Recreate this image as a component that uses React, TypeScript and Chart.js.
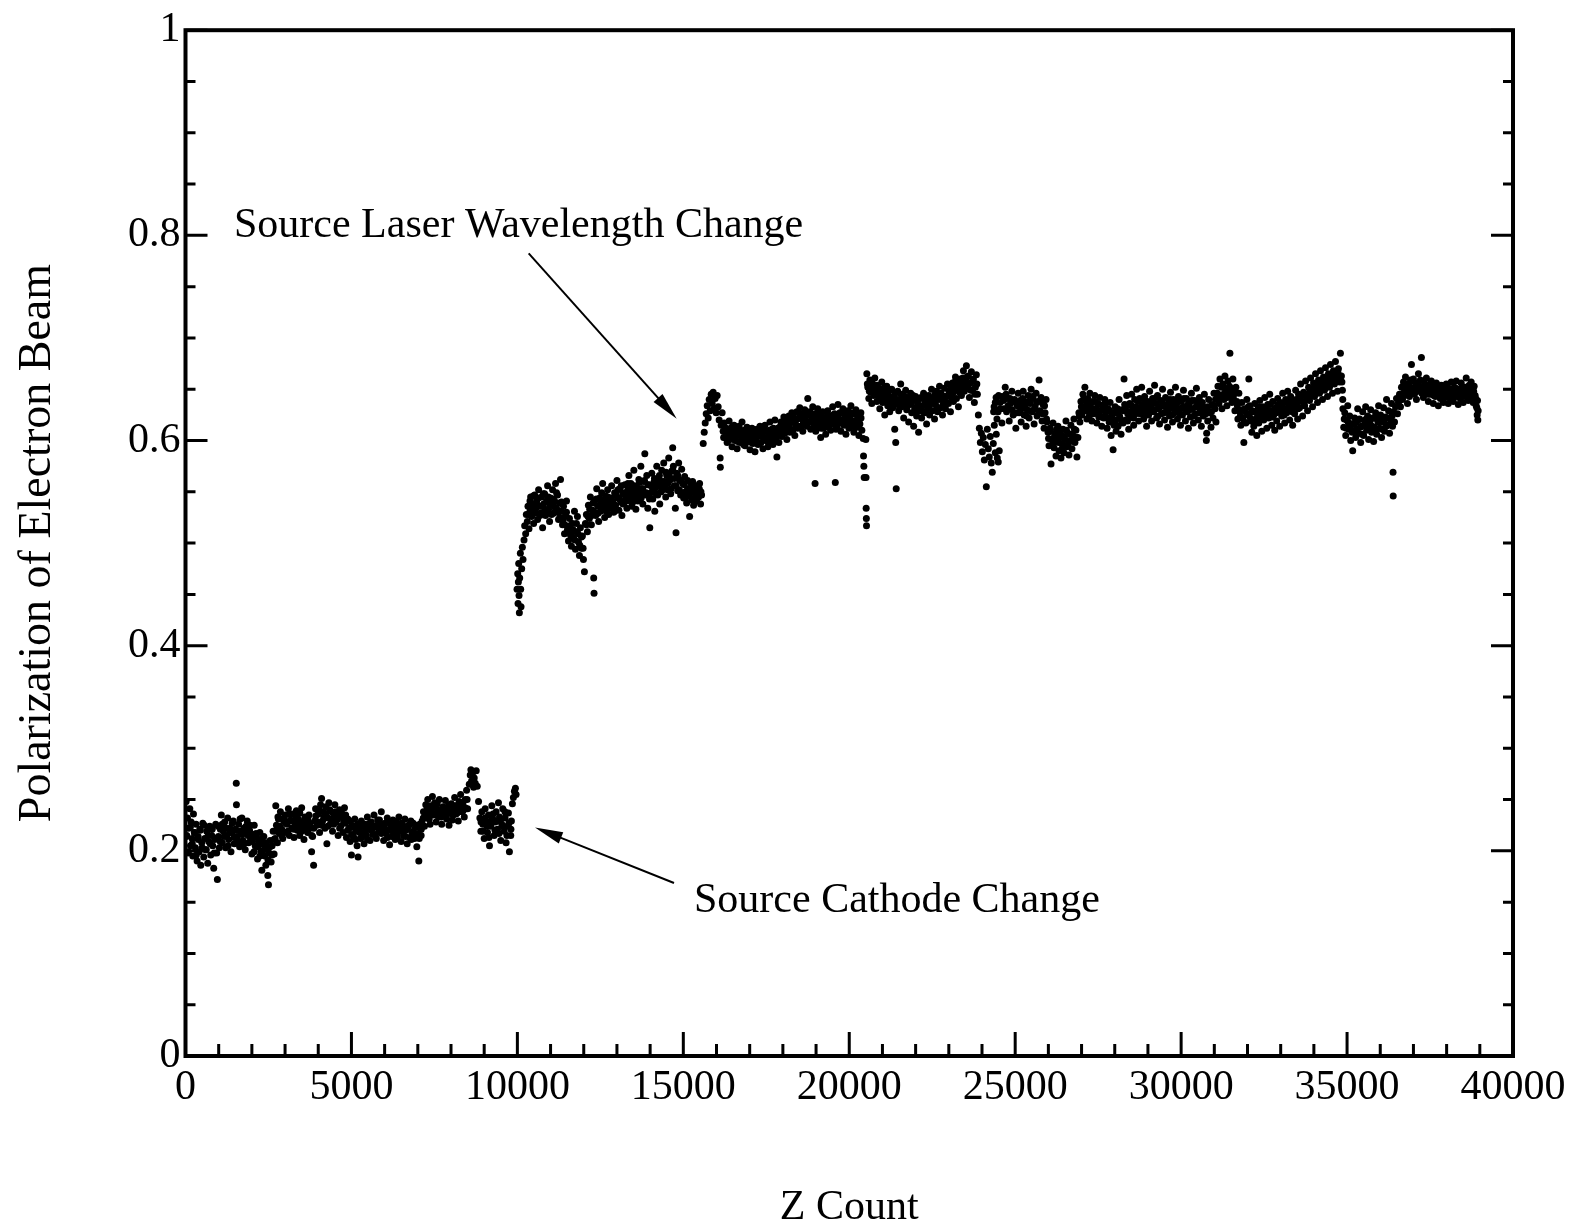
import React, { useEffect, useRef } from "react";
import { Chart, registerables } from "chart.js";

Chart.register(...registerables);

// Z Count vs polarization
const cathodeEra: [number, number][] = [
[20,0.248],[40,0.215],[60,0.232],[80,0.198],[100,0.222],[130,0.241],[150,0.205],[170,0.228],[200,0.212],[220,0.195],[240,0.236],[270,0.218],[300,0.203],[320,0.226],[350,0.190],[380,0.214],[410,0.199],[430,0.221],[460,0.186],[490,0.208],[520,0.227],[550,0.194],[580,0.212],[610,0.201],[640,0.219],[670,0.188],[700,0.209],[730,0.224],[760,0.196],[790,0.215],[820,0.205],[850,0.183],[880,0.211],[910,0.226],[940,0.198],[960,0.172],[990,0.214],[1020,0.203],[1050,0.221],[1080,0.235],[1110,0.208],[1140,0.219],[1180,0.228],[1210,0.203],[1240,0.215],[1270,0.232],[1300,0.211],[1340,0.222],[1370,0.199],[1400,0.218],[1440,0.229],[1470,0.207],[1500,0.221],[1530,0.266],[1535,0.245],[1560,0.214],[1600,0.226],[1630,0.204],[1660,0.219],[1700,0.232],[1730,0.210],[1760,0.222],[1800,0.201],[1830,0.218],[1860,0.229],[1900,0.208],[1930,0.220],[1960,0.212],[2000,0.197],[2040,0.216],[2070,0.225],[2100,0.205],[2140,0.213],[2170,0.192],[2200,0.209],[2240,0.218],[2270,0.199],[2300,0.181],[2330,0.207],[2360,0.214],[2390,0.195],[2420,0.186],[2450,0.203],[2480,0.176],[2500,0.167],[2520,0.198],[2550,0.210],[2580,0.189],[2610,0.205],[2640,0.219],[2670,0.197],[2700,0.212],[2720,0.244],[2740,0.225],[2770,0.208],[2800,0.231],[2830,0.217],[2860,0.238],[2900,0.221],[2930,0.212],[2960,0.229],[3000,0.235],[3030,0.218],[3060,0.226],[3100,0.241],[3130,0.215],[3160,0.230],[3200,0.222],[3240,0.236],[3270,0.213],[3300,0.227],[3340,0.239],[3370,0.220],[3400,0.231],[3440,0.215],[3470,0.228],[3500,0.242],[3540,0.224],[3570,0.211],[3600,0.233],[3640,0.226],[3680,0.218],[3720,0.235],[3760,0.222],[3800,0.199],[3830,0.214],[3860,0.186],[3890,0.229],[3920,0.241],[3960,0.225],[4000,0.236],[4040,0.218],[4070,0.245],[4100,0.251],[4130,0.229],[4160,0.238],[4200,0.222],[4230,0.243],[4260,0.207],[4290,0.232],[4320,0.247],[4360,0.226],[4400,0.238],[4430,0.219],[4460,0.233],[4500,0.245],[4540,0.228],[4570,0.236],[4600,0.215],[4640,0.240],[4680,0.224],[4710,0.233],[4750,0.218],[4790,0.242],[4820,0.227],[4850,0.213],[4890,0.231],[4930,0.222],[4960,0.209],[5000,0.196],[5020,0.225],[5060,0.214],[5100,0.231],[5130,0.219],[5170,0.205],[5200,0.194],[5230,0.222],[5270,0.212],[5300,0.229],[5340,0.218],[5380,0.207],[5410,0.226],[5450,0.215],[5480,0.233],[5520,0.221],[5560,0.210],[5600,0.228],[5640,0.216],[5680,0.235],[5720,0.223],[5750,0.212],[5790,0.230],[5830,0.219],[5860,0.226],[5900,0.238],[5940,0.221],[5970,0.210],[6010,0.227],[6050,0.217],[6080,0.232],[6120,0.220],[6150,0.206],[6180,0.225],[6220,0.214],[6250,0.230],[6290,0.221],[6320,0.211],[6360,0.228],[6390,0.218],[6430,0.233],[6460,0.222],[6500,0.209],[6540,0.226],[6570,0.215],[6610,0.231],[6640,0.220],[6680,0.207],[6720,0.224],[6750,0.213],[6790,0.229],[6820,0.218],[6860,0.227],[6900,0.212],[6930,0.223],[6970,0.204],[7000,0.217],[7030,0.190],[7060,0.226],[7100,0.215],[7130,0.229],[7170,0.238],[7200,0.224],[7240,0.245],[7270,0.232],[7300,0.250],[7340,0.237],[7370,0.226],[7410,0.244],[7440,0.253],[7480,0.235],[7510,0.247],[7550,0.228],[7580,0.241],[7620,0.233],[7650,0.250],[7690,0.238],[7720,0.226],[7760,0.243],[7800,0.234],[7830,0.249],[7870,0.231],[7900,0.240],[7940,0.225],[7970,0.237],[8010,0.246],[8040,0.230],[8080,0.242],[8110,0.252],[8150,0.236],[8180,0.244],[8220,0.229],[8250,0.240],[8290,0.255],[8320,0.238],[8360,0.247],[8400,0.233],[8430,0.250],[8470,0.259],[8500,0.241],[8550,0.265],[8580,0.274],[8600,0.279],[8620,0.268],[8650,0.276],[8680,0.262],[8700,0.271],[8730,0.266],[8760,0.278],[8790,0.263],[8830,0.248],[8870,0.232],[8900,0.219],[8930,0.238],[8960,0.226],[9000,0.212],[9030,0.241],[9060,0.229],[9100,0.218],[9130,0.235],[9160,0.205],[9200,0.224],[9230,0.244],[9260,0.231],[9300,0.215],[9330,0.228],[9360,0.238],[9400,0.221],[9430,0.247],[9460,0.233],[9500,0.210],[9530,0.226],[9560,0.241],[9600,0.219],[9630,0.232],[9660,0.208],[9700,0.224],[9730,0.237],[9760,0.199],[9800,0.215],[9820,0.229],[9850,0.246],[9880,0.252],[9910,0.258],[9940,0.261],[9960,0.255]
];

const cathodeFill: [number, number][] = [
[25,0.214],[85,0.199],[145,0.223],[205,0.207],[265,0.218],[325,0.196],[385,0.211],[445,0.220],[505,0.203],[565,0.225],[625,0.201],[685,0.215],[745,0.207],[805,0.221],[865,0.198],[925,0.212],[985,0.224],[1045,0.209],[1105,0.226],[1165,0.214],[1225,0.222],[1285,0.205],[1345,0.218],[1405,0.227],[1465,0.213],[1525,0.220],[1585,0.209],[1645,0.231],[1705,0.216],[1765,0.207],[1825,0.224],[1885,0.215],[1945,0.225],[2005,0.209],[2065,0.199],[2125,0.217],[2185,0.204],[2245,0.195],[2305,0.212],[2365,0.201],[2425,0.208],[2485,0.191],[2545,0.204],[2605,0.196],[2665,0.211],[2725,0.219],[2785,0.233],[2845,0.224],[2905,0.215],[2965,0.232],[3025,0.227],[3085,0.219],[3145,0.236],[3205,0.229],[3265,0.221],[3325,0.233],[3385,0.225],[3445,0.237],[3505,0.219],[3565,0.229],[3625,0.221],[3685,0.232],[3745,0.227],[3805,0.215],[3865,0.222],[3925,0.234],[3985,0.228],[4045,0.239],[4105,0.225],[4165,0.233],[4225,0.236],[4285,0.224],[4345,0.240],[4405,0.229],[4465,0.226],[4525,0.238],[4585,0.231],[4645,0.222],[4705,0.237],[4765,0.228],[4825,0.235],[4885,0.220],[4945,0.229],[5005,0.216],[5065,0.223],[5125,0.211],[5185,0.226],[5245,0.218],[5305,0.213],[5365,0.224],[5425,0.219],[5485,0.211],[5545,0.227],[5605,0.220],[5665,0.224],[5725,0.216],[5785,0.225],[5845,0.230],[5905,0.217],[5965,0.224],[6025,0.221],[6085,0.213],[6145,0.228],[6205,0.221],[6265,0.216],[6325,0.225],[6385,0.213],[6445,0.219],[6505,0.227],[6565,0.220],[6625,0.214],[6685,0.222],[6745,0.226],[6805,0.211],[6865,0.219],[6925,0.216],[6985,0.225],[7045,0.212],[7105,0.221],[7165,0.232],[7225,0.236],[7285,0.241],[7345,0.231],[7405,0.239],[7465,0.244],[7525,0.236],[7585,0.246],[7645,0.239],[7705,0.233],[7765,0.237],[7825,0.242],[7885,0.236],[7945,0.245],[8005,0.238],[8065,0.235],[8125,0.244],[8185,0.237],[8245,0.248],[8305,0.243],[8365,0.239],[8425,0.242],[8485,0.250],[8905,0.228],[8965,0.219],[9025,0.232],[9085,0.224],[9145,0.213],[9205,0.229],[9265,0.236],[9325,0.220],[9385,0.229],[9445,0.217],[9505,0.231],[9565,0.224],[9625,0.238],[9685,0.215],[9745,0.227],[9805,0.221]
];

const laserEra: [number, number][] = [
[9990,0.455],[10010,0.470],[10020,0.441],[10030,0.462],[10040,0.480],[10050,0.449],[10060,0.432],[10070,0.466],[10090,0.490],[10100,0.455],[10110,0.438],[10130,0.475],[10150,0.496],[10170,0.484],[10200,0.503],[10220,0.517],[10250,0.509],[10270,0.528],[10300,0.521],[10320,0.536],[10350,0.514],[10380,0.531],[10400,0.545],[10430,0.526],[10460,0.538],[10490,0.519],[10520,0.547],[10550,0.533],[10580,0.541],[10610,0.523],[10640,0.552],[10670,0.536],[10700,0.529],[10730,0.545],[10760,0.515],[10790,0.538],[10820,0.548],[10850,0.527],[10880,0.541],[10910,0.556],[10940,0.533],[10970,0.521],[11000,0.544],[11030,0.537],[11060,0.552],[11090,0.529],[11120,0.541],[11150,0.558],[11180,0.534],[11210,0.547],[11240,0.523],[11270,0.539],[11300,0.562],[11330,0.531],[11360,0.518],[11390,0.536],[11420,0.509],[11450,0.527],[11480,0.541],[11510,0.513],[11540,0.502],[11570,0.524],[11600,0.508],[11630,0.497],[11660,0.519],[11690,0.505],[11720,0.531],[11750,0.494],[11780,0.511],[11810,0.526],[11840,0.501],[11870,0.488],[11900,0.515],[11930,0.495],[11960,0.507],[11990,0.484],[12020,0.472],[12050,0.519],[12080,0.528],[12110,0.511],[12140,0.537],[12170,0.524],[12200,0.545],[12230,0.518],[12260,0.532],[12300,0.466],[12310,0.451],[12330,0.541],[12360,0.527],[12390,0.553],[12420,0.536],[12450,0.521],[12480,0.544],[12510,0.531],[12540,0.549],[12570,0.558],[12600,0.535],[12630,0.525],[12660,0.546],[12690,0.539],[12720,0.552],[12750,0.528],[12780,0.543],[12810,0.534],[12840,0.556],[12870,0.541],[12900,0.530],[12930,0.549],[12960,0.537],[13000,0.561],[13030,0.544],[13060,0.532],[13090,0.553],[13120,0.540],[13150,0.527],[13180,0.548],[13210,0.539],[13240,0.557],[13270,0.545],[13300,0.534],[13330,0.552],[13360,0.566],[13390,0.541],[13420,0.558],[13450,0.536],[13480,0.549],[13510,0.571],[13540,0.545],[13570,0.533],[13600,0.554],[13630,0.541],[13660,0.562],[13690,0.548],[13720,0.575],[13750,0.553],[13780,0.538],[13810,0.560],[13840,0.587],[13870,0.547],[13900,0.566],[13930,0.534],[13960,0.557],[13990,0.515],[14020,0.549],[14050,0.568],[14080,0.543],[14110,0.559],[14140,0.531],[14170,0.554],[14200,0.575],[14230,0.547],[14260,0.563],[14290,0.538],[14320,0.556],[14350,0.571],[14380,0.552],[14410,0.578],[14440,0.560],[14470,0.545],[14500,0.566],[14530,0.552],[14560,0.583],[14590,0.561],[14620,0.548],[14650,0.570],[14680,0.593],[14700,0.575],[14730,0.556],[14760,0.534],[14780,0.510],[14800,0.568],[14830,0.551],[14860,0.578],[14890,0.561],[14920,0.547],[14950,0.572],[14980,0.558],[15010,0.544],[15040,0.565],[15070,0.550],[15100,0.539],[15130,0.561],[15160,0.548],[15190,0.526],[15220,0.553],[15250,0.542],[15280,0.560],[15310,0.537],[15340,0.549],[15370,0.556],[15400,0.541],[15430,0.552],[15460,0.545],[15490,0.558],[15520,0.538],[15550,0.547]
];

const laserFill: [number, number][] = [
[10330,0.528],[10380,0.541],[10430,0.535],[10480,0.546],[10530,0.529],[10580,0.538],[10630,0.544],[10680,0.527],[10730,0.536],[10780,0.548],[10830,0.533],[10880,0.530],[10930,0.545],[10980,0.538],[11030,0.528],[11080,0.543],[11130,0.535],[11180,0.549],[11230,0.530],[11280,0.525],[11330,0.540],[11380,0.523],[11430,0.518],[11480,0.530],[11530,0.512],[11580,0.517],[11630,0.508],[11680,0.513],[11730,0.503],[11780,0.519],[11830,0.509],[11880,0.498],[11930,0.506],[11980,0.495],[12080,0.518],[12130,0.526],[12180,0.533],[12230,0.527],[12280,0.539],[12330,0.530],[12380,0.543],[12430,0.529],[12480,0.537],[12530,0.542],[12580,0.533],[12630,0.540],[12680,0.531],[12730,0.545],[12780,0.536],[12830,0.544],[12880,0.539],[12930,0.531],[12980,0.547],[13030,0.552],[13080,0.543],[13130,0.556],[13180,0.538],[13230,0.549],[13280,0.541],[13330,0.558],[13380,0.547],[13430,0.553],[13480,0.540],[13530,0.556],[13580,0.548],[13630,0.552],[13680,0.559],[13730,0.544],[13780,0.553],[13830,0.561],[13880,0.549],[13930,0.557],[13980,0.543],[14030,0.556],[14080,0.552],[14130,0.563],[14180,0.548],[14230,0.559],[14280,0.566],[14330,0.550],[14380,0.560],[14430,0.555],[14480,0.569],[14530,0.558],[14580,0.565],[14630,0.553],[14680,0.571],[14730,0.563],[14780,0.556],[14830,0.566],[14880,0.552],[14930,0.561],[14980,0.549],[15030,0.557],[15080,0.545],[15130,0.553],[15180,0.547],[15230,0.558],[15280,0.551],[15330,0.544],[15380,0.550],[15430,0.546],[15480,0.553],[15530,0.550]
];

const plateauEra: [number, number][] = [
[15600,0.597],[15630,0.608],[15660,0.617],[15690,0.626],[15720,0.634],[15750,0.622],[15780,0.640],[15810,0.629],[15840,0.645],[15870,0.636],[15900,0.647],[15930,0.631],[15960,0.641],[15990,0.627],[16020,0.644],[16050,0.633],[16080,0.620],[16110,0.583],[16115,0.574],[16140,0.615],[16170,0.627],[16200,0.609],
[16230,0.617],[16260,0.603],[16290,0.612],[16320,0.598],[16350,0.608],[16380,0.619],[16410,0.601],[16440,0.611],[16470,0.594],[16500,0.606],[16530,0.615],[16560,0.600],[16590,0.609],[16620,0.592],[16650,0.605],[16680,0.614],[16710,0.598],[16740,0.607],[16770,0.618],[16800,0.601],[16830,0.610],[16860,0.595],[16890,0.604],[16920,0.613],[16950,0.599],[16980,0.608],[17010,0.591],[17040,0.603],[17070,0.612],[17100,0.597],[17130,0.606],[17160,0.589],[17190,0.600],[17220,0.611],[17250,0.596],[17280,0.605],[17310,0.614],[17340,0.598],[17370,0.607],[17400,0.592],[17430,0.603],[17460,0.615],[17490,0.600],[17520,0.609],[17550,0.594],[17580,0.605],[17610,0.618],[17640,0.601],[17670,0.611],[17700,0.596],[17730,0.607],[17760,0.620],[17790,0.603],[17820,0.584],[17850,0.612],[17880,0.598],
[17910,0.609],[17940,0.618],[17970,0.604],[18000,0.613],[18030,0.623],[18060,0.607],[18090,0.616],[18120,0.601],[18150,0.611],[18180,0.624],[18210,0.608],[18240,0.618],[18270,0.627],[18300,0.610],[18330,0.620],[18360,0.605],[18390,0.615],[18420,0.628],[18450,0.612],[18480,0.622],[18510,0.632],[18540,0.614],[18570,0.624],[18600,0.609],[18630,0.619],[18660,0.630],[18690,0.615],[18720,0.625],[18750,0.641],[18780,0.618],[18810,0.628],[18840,0.611],[18870,0.622],[18900,0.633],[18930,0.616],[18960,0.626],[18970,0.558],[18990,0.609],[19020,0.620],[19050,0.631],[19080,0.614],[19110,0.624],[19140,0.603],[19170,0.617],[19200,0.628],[19230,0.612],[19260,0.622],[19290,0.606],[19320,0.618],[19350,0.629],[19380,0.613],
[19410,0.624],[19440,0.610],[19470,0.621],[19500,0.633],[19530,0.616],[19560,0.626],[19580,0.559],[19600,0.611],[19630,0.622],[19660,0.635],[19690,0.617],[19720,0.627],[19750,0.609],[19780,0.620],[19810,0.631],[19840,0.615],[19870,0.625],[19900,0.606],[19930,0.618],[19960,0.629],[19990,0.612],[20020,0.623],[20050,0.634],[20080,0.616],[20110,0.626],[20140,0.608],[20170,0.619],[20200,0.630],[20230,0.613],[20260,0.622],[20290,0.605],[20320,0.616],[20350,0.627],[20380,0.610],
[20420,0.602],[20430,0.585],[20440,0.575],[20450,0.564],[20500,0.601],[20505,0.564],[20510,0.534],[20515,0.524],[20520,0.517],
[20530,0.665],[20560,0.652],[20590,0.641],[20620,0.659],[20650,0.647],[20680,0.636],[20710,0.655],[20740,0.644],[20770,0.661],[20800,0.649],[20830,0.638],
[20860,0.652],[20890,0.640],[20920,0.631],[20950,0.648],[20980,0.657],[21010,0.637],[21040,0.646],[21070,0.625],[21100,0.641],[21130,0.653],[21160,0.634],[21190,0.644],[21220,0.628],[21250,0.639],[21280,0.650],[21310,0.632],[21340,0.643],[21370,0.611],[21400,0.598],[21415,0.553],[21430,0.637],[21460,0.648],[21490,0.629],[21520,0.640],[21550,0.655],[21580,0.633],[21610,0.644],[21640,0.622],[21670,0.638],[21700,0.649],[21730,0.630],[21760,0.641],[21790,0.618],[21820,0.635],[21850,0.646],[21880,0.627],[21910,0.639],[21940,0.614],[21970,0.632],[22000,0.643],[22030,0.624],[22060,0.636],[22090,0.608],[22120,0.629],[22150,0.641],[22180,0.622],[22210,0.634],[22240,0.646],[22270,0.627],[22300,0.638],[22330,0.616],[22360,0.631],[22390,0.644],[22420,0.625],[22450,0.637],[22480,0.650],[22510,0.629],[22540,0.640],[22570,0.621],[22600,0.635],[22630,0.648],[22660,0.628],[22690,0.641],[22720,0.653],[22750,0.632],[22780,0.644],[22810,0.625],[22840,0.639],[22870,0.651],[22900,0.631],[22930,0.643],[22960,0.655],[22990,0.636],[23020,0.647],[23050,0.628],
[23080,0.642],[23110,0.656],[23140,0.638],[23170,0.650],[23200,0.662],[23230,0.641],[23260,0.653],[23290,0.633],[23320,0.647],[23350,0.660],[23380,0.644],[23410,0.655],[23440,0.668],[23470,0.648],[23500,0.659],[23530,0.673],[23560,0.651],[23590,0.663],[23620,0.642],[23650,0.656],[23680,0.667],[23710,0.649],[23740,0.660],[23770,0.637],[23800,0.652],[23830,0.664],[23860,0.645],[23890,0.625],
[23920,0.612],[23950,0.598],[23980,0.607],[24010,0.589],[24040,0.603],[24070,0.581],[24100,0.596],[24130,0.555],[24160,0.611],[24190,0.592],[24220,0.584],[24250,0.604],[24280,0.578],[24310,0.569],[24340,0.597],[24370,0.615],[24400,0.588],[24430,0.606],[24460,0.583],[24490,0.579],[24520,0.590],
[24350,0.628],[24400,0.637],[24450,0.621],[24500,0.644],[24550,0.631],[24600,0.617],[24650,0.639],[24700,0.652],[24740,0.628],[24780,0.641],[24820,0.619],[24860,0.636],[24900,0.648],[24940,0.625],[24980,0.640],[25020,0.612],
[25060,0.634],[25090,0.646],[25120,0.627],[25150,0.639],[25180,0.618],[25210,0.633],[25240,0.648],[25270,0.625],[25300,0.637],[25330,0.614],[25360,0.630],[25390,0.644],[25420,0.622],[25450,0.636],[25480,0.650],[25510,0.628],[25540,0.641],[25570,0.616],[25600,0.633],[25630,0.646],[25660,0.624],[25690,0.638],[25720,0.659],[25750,0.629],[25780,0.642],[25810,0.619],[25840,0.635],[25870,0.612],[25900,0.627],[25930,0.640],[25960,0.618],
[25990,0.608],[26020,0.595],[26050,0.612],[26080,0.577],[26110,0.601],[26140,0.617],[26170,0.593],[26200,0.606],[26230,0.585],[26260,0.599],[26290,0.614],[26320,0.590],[26350,0.603],[26380,0.583],[26410,0.597],[26440,0.611],[26470,0.588],[26500,0.601],[26530,0.619],[26560,0.594],[26590,0.607],[26620,0.586],[26650,0.600],[26680,0.615],[26710,0.592],[26740,0.605],[26770,0.621],[26800,0.598],[26830,0.610],[26860,0.584],[26890,0.603],
[26920,0.627],[26950,0.618],[26980,0.638],[27010,0.625],[27040,0.645],[27070,0.630],[27100,0.652],[27130,0.634],[27160,0.621],[27190,0.641],[27220,0.628],[27250,0.646],[27280,0.632],[27310,0.619],[27340,0.638],[27370,0.626],[27400,0.644],[27430,0.631],[27460,0.617],[27490,0.636],[27520,0.623],[27550,0.642],[27580,0.629],[27610,0.614],[27640,0.634],[27670,0.622],[27700,0.640],[27730,0.627],
[27770,0.612],[27800,0.631],[27830,0.618],[27860,0.637],[27890,0.605],[27920,0.624],[27950,0.591],[27980,0.615],[28010,0.633],[28040,0.609],[28070,0.627],[28100,0.614],[28130,0.640],[28160,0.622],[28190,0.606],[28220,0.630],[28250,0.617],[28280,0.660],[28300,0.635],[28330,0.620],[28360,0.644],[28390,0.626],[28420,0.611],[28450,0.636],[28480,0.623],[28510,0.645],[28540,0.629],[28570,0.615],[28600,0.640],[28630,0.626],[28660,0.650],
[28690,0.632],[28720,0.619],[28750,0.641],[28780,0.628],[28810,0.652],[28840,0.635],[28870,0.621],[28900,0.643],[28930,0.630],[28960,0.614],[28990,0.638],[29020,0.625],[29050,0.648],[29080,0.633],[29110,0.619],[29140,0.641],[29170,0.628],[29200,0.654],[29230,0.636],[29260,0.622],[29290,0.644],[29320,0.631],[29350,0.616],[29380,0.639],[29410,0.626],[29440,0.650],[29470,0.634],[29500,0.620],[29530,0.642],[29560,0.629],[29590,0.613],[29620,0.637],[29650,0.624],[29680,0.647],[29710,0.632],[29740,0.618],[29770,0.640],[29800,0.627],[29830,0.652],[29860,0.635],[29890,0.621],[29920,0.643],[29950,0.630],[29980,0.615],[30010,0.638],[30040,0.625],[30070,0.649],[30100,0.633],[30130,0.619],[30160,0.641],[30190,0.628],[30220,0.612],[30250,0.636],[30280,0.623],[30310,0.646],[30340,0.631],[30370,0.617],[30400,0.639],[30430,0.626],[30460,0.651],[30490,0.634],[30520,0.620],[30550,0.642],[30580,0.629],[30610,0.614],[30640,0.637],[30670,0.624],[30700,0.645],[30730,0.632],[30760,0.600],[30770,0.607],[30800,0.619],[30830,0.640],[30860,0.627],
[30900,0.613],[30930,0.635],[30960,0.622],[30990,0.646],[31020,0.631],[31050,0.618],[31080,0.641],[31110,0.653],[31140,0.636],[31170,0.660],[31200,0.644],[31230,0.631],[31260,0.655],[31290,0.640],[31320,0.663],[31350,0.647],[31380,0.634],[31410,0.658],[31440,0.643],[31470,0.685],[31500,0.651],[31530,0.637],[31560,0.660],[31590,0.645],[31620,0.629],[31650,0.652],[31680,0.638],[31710,0.621],[31740,0.646],
[31770,0.628],[31800,0.615],[31830,0.637],[31860,0.622],[31890,0.598],[31920,0.631],[31950,0.617],[31980,0.640],[32010,0.625],[32040,0.660],[32070,0.634],[32100,0.619],[32130,0.608],[32160,0.628],[32190,0.614],[32220,0.636],[32250,0.621],[32280,0.605],[32310,0.630],[32340,0.617],[32370,0.639],[32400,0.624],[32430,0.609],[32460,0.633],[32490,0.620],[32520,0.642],[32550,0.627],[32580,0.612],[32610,0.635],[32640,0.622],[32670,0.645],[32700,0.629],[32730,0.615],[32760,0.638],[32790,0.625],[32820,0.610],[32850,0.632],[32880,0.619],[32910,0.641],[32940,0.628],[32970,0.614],[33000,0.637],[33030,0.624],[33060,0.646],[33090,0.631],[33120,0.617],[33150,0.640],[33180,0.627],[33210,0.648],[33240,0.633],[33270,0.620],[33300,0.643],[33330,0.630],[33360,0.615],[33390,0.639],[33420,0.626],[33450,0.649],[33480,0.635],[33510,0.621],[33540,0.645],[33570,0.632],[33600,0.655],[33630,0.638],[33660,0.624],[33690,0.647],[33720,0.634],[33750,0.658],[33780,0.641],
[33810,0.629],[33840,0.652],[33870,0.639],[33900,0.661],[33930,0.645],[33960,0.633],[33990,0.656],[34020,0.643],[34050,0.665],[34080,0.649],[34110,0.637],[34140,0.659],[34170,0.646],[34200,0.668],[34230,0.652],[34260,0.640],[34290,0.662],[34320,0.649],[34350,0.671],[34380,0.655],[34410,0.643],[34440,0.665],[34470,0.652],[34500,0.674],[34530,0.658],[34560,0.646],[34590,0.668],[34620,0.655],[34650,0.677],[34680,0.660],[34710,0.648],[34740,0.670],[34770,0.657],[34800,0.685],[34830,0.663],[34860,0.649],[34870,0.640],[34875,0.631],
[34900,0.613],[34930,0.627],[34960,0.605],[34990,0.620],[35020,0.634],[35050,0.611],[35080,0.624],[35110,0.600],[35140,0.616],[35170,0.590],[35200,0.609],[35230,0.622],[35260,0.603],[35290,0.618],[35320,0.631],[35350,0.607],[35380,0.621],[35410,0.598],[35440,0.614],[35470,0.628],[35500,0.605],[35530,0.619],[35560,0.633],[35590,0.610],[35620,0.624],[35650,0.601],[35680,0.616],[35710,0.630],[35740,0.608],[35770,0.622],[35800,0.599],[35830,0.613],[35860,0.627],[35890,0.606],[35920,0.620],[35950,0.634],[35980,0.612],[36010,0.625],[36040,0.603],[36070,0.618],[36100,0.632],[36130,0.609],[36160,0.623],[36190,0.640],[36220,0.615],[36250,0.629],[36280,0.607],[36310,0.621],[36340,0.636],[36370,0.614],[36385,0.569],[36390,0.546],[36400,0.628],[36430,0.618],[36460,0.633],[36490,0.641],[36520,0.626],[36550,0.637],
[36580,0.645],[36610,0.633],[36640,0.652],[36670,0.640],[36700,0.657],[36730,0.644],[36760,0.662],[36790,0.648],[36820,0.636],[36850,0.655],[36880,0.643],[36910,0.659],[36940,0.674],[36970,0.647],[37000,0.660],[37030,0.645],[37060,0.656],[37090,0.640],[37120,0.653],[37150,0.665],[37180,0.648],[37210,0.659],[37240,0.681],[37270,0.651],[37300,0.642],[37330,0.657],[37360,0.646],[37390,0.661],[37420,0.650],[37450,0.638],[37480,0.654],[37510,0.645],[37540,0.658],[37570,0.647],[37600,0.636],[37630,0.652],[37660,0.643],[37690,0.656],[37720,0.645],[37750,0.634],[37780,0.650],[37810,0.641],[37840,0.654],[37870,0.644],[37900,0.637],[37930,0.651],[37960,0.642],[37990,0.655],[38020,0.646],[38050,0.636],[38080,0.650],[38110,0.641],[38140,0.657],[38170,0.645],[38200,0.638],[38230,0.652],[38260,0.643],[38290,0.658],[38320,0.647],[38350,0.635],[38380,0.650],[38410,0.641],[38440,0.656],[38470,0.645],[38500,0.637],[38530,0.652],[38560,0.643],[38590,0.661],[38620,0.648],[38650,0.639],[38680,0.654],[38710,0.644],[38740,0.657],[38770,0.646],[38800,0.637],[38830,0.653],[38860,0.644],[38890,0.634],
[38910,0.632],[38920,0.625],[38930,0.639],[38940,0.620],[38950,0.629]
];

const plateauFill: [number, number][] = [
[16215,0.603],[16275,0.611],[16335,0.599],[16395,0.606],[16455,0.613],[16515,0.602],[16575,0.608],[16635,0.599],[16695,0.610],[16755,0.604],[16815,0.596],[16875,0.609],[16935,0.603],[16995,0.611],[17055,0.598],[17115,0.606],[17175,0.601],[17235,0.609],[17295,0.597],[17355,0.604],[17415,0.611],[17475,0.603],[17535,0.599],[17595,0.610],[17655,0.604],[17715,0.612],[17775,0.599],[17835,0.606],
[17895,0.613],[17955,0.609],[18015,0.618],[18075,0.611],[18135,0.620],[18195,0.614],[18255,0.610],[18315,0.623],[18375,0.617],[18435,0.621],[18495,0.613],[18555,0.626],[18615,0.618],[18675,0.622],[18735,0.614],[18795,0.627],[18855,0.619],[18915,0.624],[18975,0.615],[19035,0.621],[19095,0.627],[19155,0.612],[19215,0.620],[19275,0.615],[19335,0.624],[19395,0.618],
[19455,0.616],[19515,0.625],[19575,0.619],[19635,0.613],[19695,0.626],[19755,0.620],[19815,0.617],[19875,0.628],[19935,0.622],[19995,0.615],[20055,0.627],[20115,0.619],[20175,0.613],[20235,0.625],[20295,0.618],[20355,0.622],
[20545,0.655],[20605,0.648],[20665,0.657],[20725,0.650],[20785,0.645],[20845,0.654],[20905,0.644],[20965,0.639],[21025,0.651],[21085,0.643],[21145,0.637],[21205,0.649],[21265,0.642],[21325,0.635],[21385,0.646],[21445,0.640],[21505,0.634],[21565,0.645],[21625,0.638],[21685,0.643],[21745,0.633],[21805,0.641],[21865,0.636],[21925,0.644],[21985,0.630],[22045,0.639],[22105,0.634],[22165,0.642],[22225,0.628],[22285,0.637],[22345,0.642],[22405,0.633],[22465,0.641],[22525,0.636],[22585,0.645],[22645,0.632],[22705,0.640],[22765,0.646],[22825,0.635],[22885,0.643],[22945,0.637],[23005,0.648],
[23065,0.651],[23125,0.646],[23185,0.657],[23245,0.649],[23305,0.655],[23365,0.650],[23425,0.661],[23485,0.654],[23545,0.662],[23605,0.655],[23665,0.649],[23725,0.658],[23785,0.645],[23845,0.655],
[24365,0.633],[24425,0.642],[24485,0.628],[24545,0.637],[24605,0.643],[24665,0.631],[24725,0.645],[24785,0.634],[24845,0.641],[24905,0.630],[24965,0.638],
[25045,0.627],[25105,0.637],[25165,0.630],[25225,0.641],[25285,0.633],[25345,0.624],[25405,0.638],[25465,0.629],[25525,0.643],[25585,0.631],[25645,0.637],[25705,0.628],[25765,0.639],[25825,0.626],[25885,0.634],[25945,0.621],
[26005,0.602],[26065,0.609],[26125,0.596],[26185,0.604],[26245,0.611],[26305,0.598],[26365,0.607],[26425,0.593],[26485,0.604],[26545,0.610],[26605,0.597],[26665,0.606],[26725,0.600],[26785,0.611],[26845,0.603],
[26935,0.624],[26995,0.633],[27055,0.640],[27115,0.629],[27175,0.636],[27235,0.624],[27295,0.637],[27355,0.631],[27415,0.638],[27475,0.627],[27535,0.635],[27595,0.623],[27655,0.631],[27715,0.636],
[27785,0.622],[27845,0.629],[27905,0.618],[27965,0.627],[28025,0.620],[28085,0.631],[28145,0.624],[28205,0.618],[28265,0.629],[28325,0.632],[28385,0.619],[28445,0.628],[28505,0.634],[28565,0.622],[28625,0.633],
[28705,0.638],[28765,0.626],[28825,0.633],[28885,0.640],[28945,0.625],[29005,0.634],[29065,0.628],[29125,0.637],[29185,0.630],[29245,0.642],[29305,0.624],[29365,0.633],[29425,0.638],[29485,0.627],[29545,0.634],[29605,0.629],[29665,0.640],[29725,0.625],[29785,0.636],[29845,0.631],[29905,0.638],[29965,0.626],[30025,0.632],[30085,0.641],[30145,0.628],[30205,0.635],[30265,0.630],[30325,0.639],[30385,0.624],[30445,0.633],[30505,0.638],[30565,0.627],[30625,0.634],[30685,0.629],[30745,0.626],[30805,0.633],
[30915,0.628],[30975,0.634],[31035,0.640],[31095,0.646],[31155,0.641],[31215,0.652],[31275,0.645],[31335,0.650],[31395,0.642],[31455,0.653],[31515,0.646],[31575,0.641],[31635,0.647],[31695,0.634],
[31785,0.624],[31845,0.630],[31905,0.618],[31965,0.627],[32025,0.633],[32085,0.622],[32145,0.629],[32205,0.618],[32265,0.627],[32325,0.633],[32385,0.621],[32445,0.628],[32505,0.624],[32565,0.631],[32625,0.626],[32685,0.635],[32745,0.623],[32805,0.630],[32865,0.627],[32925,0.635],[32985,0.629],[33045,0.633],[33105,0.625],[33165,0.637],[33225,0.631],[33285,0.638],[33345,0.628],[33405,0.634],[33465,0.640],[33525,0.631],[33585,0.639],[33645,0.644],[33705,0.637],[33765,0.645],
[33825,0.640],[33885,0.648],[33945,0.644],[34005,0.651],[34065,0.646],[34125,0.654],[34185,0.650],[34245,0.657],[34305,0.652],[34365,0.660],[34425,0.655],[34485,0.662],[34545,0.657],[34605,0.664],[34665,0.659],[34725,0.666],[34785,0.661],[34845,0.657],
[34915,0.621],[34975,0.612],[35035,0.618],[35095,0.613],[35155,0.608],[35215,0.616],[35275,0.611],[35335,0.620],[35395,0.613],[35455,0.606],[35515,0.615],[35575,0.621],[35635,0.612],[35695,0.619],[35755,0.614],[35815,0.622],[35875,0.610],[35935,0.618],[35995,0.623],[36055,0.611],[36115,0.619],[36175,0.614],[36235,0.622],[36295,0.616],[36355,0.624],
[36595,0.640],[36655,0.645],[36715,0.651],[36775,0.655],[36835,0.647],[36895,0.652],[36955,0.658],[37015,0.651],[37075,0.648],[37135,0.656],[37195,0.653],[37255,0.646],[37315,0.651],[37375,0.654],[37435,0.645],[37495,0.649],[37555,0.652],[37615,0.644],[37675,0.650],[37735,0.647],[37795,0.653],[37855,0.649],[37915,0.645],[37975,0.649],[38035,0.652],[38095,0.644],[38155,0.649],[38215,0.646],[38275,0.651],[38335,0.643],[38395,0.647],[38455,0.650],[38515,0.645],[38575,0.652],[38635,0.646],[38695,0.649],[38755,0.643],[38815,0.648],[38875,0.641]
];

// axis settings
const X_MIN = 0;
const X_MAX = 40000;
const X_MAJOR = 5000;
const X_MINOR = 1000;
const Y_MIN = 0;
const Y_MAX = 1;
const Y_MAJOR = 0.2;
const Y_MINOR = 0.05;

const X_TITLE = "Z Count";
const Y_TITLE = "Polarization of Electron Beam";

// annotations (data coordinates)
const laserLabel = { text: "Source Laser Wavelength Change", x: 1461, y: 0.8095 };
const laserArrow = { from: [10341, 0.7825], to: [14801, 0.6212] };
const cathodeLabel = { text: "Source Cathode Change", x: 15322, y: 0.151 };
const cathodeArrow = { from: [14720, 0.1687], to: [10531, 0.2228] };

const FONT = "'Liberation Serif', 'Times New Roman', Times, serif";

export default function App() {
  const ref = useRef<HTMLCanvasElement>(null);

  useEffect(() => {
    if (!ref.current) return;
    const toPts = (arr: [number, number][]) => arr.map(([x, y]) => ({ x, y }));

    const framePlugin = {
      id: "frameTicks",
      afterDatasetsDraw(chart: any) {
        const { ctx, chartArea: a, scales } = chart;
        const xs = scales.x;
        const ys = scales.y;
        ctx.save();
        ctx.strokeStyle = "#000";
        ctx.fillStyle = "#000";
        ctx.lineWidth = 3;
        ctx.beginPath();
        const nx = Math.round((X_MAX - X_MIN) / X_MINOR);
        for (let i = 0; i <= nx; i++) {
          const v = X_MIN + i * X_MINOR;
          const px = xs.getPixelForValue(v);
          const major = Math.abs(v / X_MAJOR - Math.round(v / X_MAJOR)) < 1e-6;
          const len = major ? 24 : 12;
          ctx.moveTo(px, a.bottom);
          ctx.lineTo(px, a.bottom - len);
        }
        const ny = Math.round((Y_MAX - Y_MIN) / Y_MINOR);
        for (let i = 0; i <= ny; i++) {
          const v = Y_MIN + i * Y_MINOR;
          const py = ys.getPixelForValue(v);
          const major = Math.abs(v / Y_MAJOR - Math.round(v / Y_MAJOR)) < 1e-6;
          const len = major ? 22 : 10;
          ctx.moveTo(a.left, py);
          ctx.lineTo(a.left + len, py);
          ctx.moveTo(a.right, py);
          ctx.lineTo(a.right - len, py);
        }
        ctx.stroke();
        ctx.lineWidth = 4;
        ctx.strokeRect(a.left, a.top, a.right - a.left, a.bottom - a.top);

        // annotations
        ctx.font = `42px ${FONT}`;
        ctx.textBaseline = "middle";
        ctx.textAlign = "left";
        ctx.fillText(laserLabel.text, xs.getPixelForValue(laserLabel.x), ys.getPixelForValue(laserLabel.y));
        ctx.fillText(cathodeLabel.text, xs.getPixelForValue(cathodeLabel.x), ys.getPixelForValue(cathodeLabel.y));

        const arrow = (from: number[], to: number[]) => {
          const x0 = xs.getPixelForValue(from[0]);
          const y0 = ys.getPixelForValue(from[1]);
          const x1 = xs.getPixelForValue(to[0]);
          const y1 = ys.getPixelForValue(to[1]);
          const ang = Math.atan2(y1 - y0, x1 - x0);
          const L = 28;
          const W = 6;
          const c = Math.cos(ang);
          const s = Math.sin(ang);
          const bx = x1 - L * c;
          const by = y1 - L * s;
          ctx.lineWidth = 2;
          ctx.beginPath();
          ctx.moveTo(x0, y0);
          ctx.lineTo(bx + 2 * c, by + 2 * s);
          ctx.stroke();
          ctx.beginPath();
          ctx.moveTo(x1, y1);
          ctx.lineTo(bx + W * s, by - W * c);
          ctx.lineTo(bx - W * s, by + W * c);
          ctx.closePath();
          ctx.fill();
        };
        arrow(laserArrow.from, laserArrow.to);
        arrow(cathodeArrow.from, cathodeArrow.to);
        ctx.restore();
      },
    };

    const pointStyle = {
      pointRadius: 3.5,
      pointHoverRadius: 3.5,
      pointBackgroundColor: "#000",
      pointBorderWidth: 0,
      backgroundColor: "#000",
      borderColor: "#000",
    };

    const chart = new Chart(ref.current, {
      type: "scatter",
      data: {
        datasets: [
          { label: "cathode", data: toPts(cathodeEra), ...pointStyle },
          { label: "cathodeFill", data: toPts(cathodeFill), ...pointStyle },
          { label: "laser", data: toPts(laserEra), ...pointStyle },
          { label: "laserFill", data: toPts(laserFill), ...pointStyle },
          { label: "plateau", data: toPts(plateauEra), ...pointStyle },
          { label: "plateauFill", data: toPts(plateauFill), ...pointStyle },
        ],
      },
      options: {
        responsive: false,
        animation: false,
        devicePixelRatio: 1,
        events: [],
        layout: { padding: { top: 29.5, right: 60, left: 0, bottom: 0 } },
        plugins: { legend: { display: false }, tooltip: { enabled: false } },
        scales: {
          x: {
            type: "linear",
            min: X_MIN,
            max: X_MAX,
            afterFit: (s: any) => {
              s.height = 174;
            },
            grid: { display: false, drawTicks: false },
            border: { display: false },
            ticks: {
              stepSize: X_MAJOR,
              padding: 7,
              autoSkip: false,
              maxRotation: 0,
              color: "#000",
              font: { family: FONT, size: 42 },
              callback: (v: any) => String(v),
            },
            title: {
              display: true,
              text: X_TITLE,
              color: "#000",
              font: { family: FONT, size: 42, lineHeight: 1 },
              padding: { top: 0, bottom: 1 },
            },
          },
          y: {
            type: "linear",
            min: Y_MIN,
            max: Y_MAX,
            afterFit: (s: any) => {
              s.width = 185.5;
            },
            grid: { display: false, drawTicks: false },
            border: { display: false },
            ticks: {
              stepSize: Y_MAJOR,
              padding: 5,
              color: "#000",
              font: { family: FONT, size: 42 },
              callback: (v: any) => String(Number(Number(v).toFixed(1))),
            },
            title: {
              display: true,
              text: Y_TITLE,
              color: "#000",
              font: { family: FONT, size: 46, lineHeight: 1 },
              padding: { top: 15, bottom: 0 },
            },
          },
        },
      },
      plugins: [framePlugin],
    } as any);

    return () => chart.destroy();
  }, []);

  return (
    <div style={{ position: "absolute", left: 0, top: 0, width: 1573, height: 1230, background: "#fff" }}>
      <canvas ref={ref} width={1573} height={1230} style={{ display: "block" }} />
    </div>
  );
}
